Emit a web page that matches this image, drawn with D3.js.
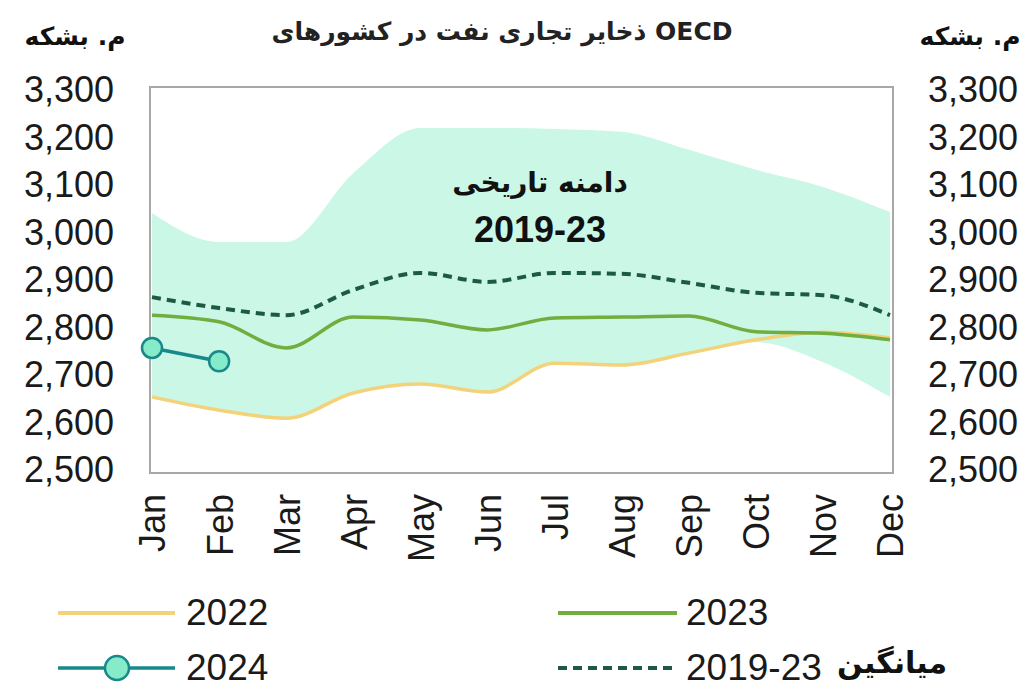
<!DOCTYPE html>
<html>
<head>
<meta charset="utf-8">
<script src="https://cdn.jsdelivr.net/npm/d3@7"></script>
<style>
  body { margin: 0; background: #fff; }
  svg { display: block; }
  text { font-family: "Liberation Sans", Arial, "DejaVu Sans", sans-serif; }
  .fa { font-family: "DejaVu Sans", sans-serif; font-weight: bold; }
</style>
</head>
<body>
<div id="chart"></div>
<script>
const months = ["Jan", "Feb", "Mar", "Apr", "May", "Jun", "Jul", "Aug", "Sep", "Oct", "Nov", "Dec"];
const yTicks = [2500, 2600, 2700, 2800, 2900, 3000, 3100, 3200, 3300];

// 2019-23 range (million barrels)
const rangeHigh = [3041, 2980, 2980, 3125, 3220, 3220, 3218, 3212, 3174, 3132, 3096, 3043];
const rangeLow  = [2650, 2624, 2606, 2660, 2679, 2662, 2723, 2719, 2744, 2769, 2727, 2654];
const avg1923   = [2864, 2841, 2826, 2879, 2915, 2896, 2915, 2913, 2894, 2873, 2868, 2826];
const y2022     = [2654, 2626, 2609, 2662, 2681, 2664, 2725, 2721, 2746, 2774, 2790, 2778];
const y2023     = [2826, 2812, 2757, 2822, 2816, 2795, 2820, 2822, 2824, 2791, 2788, 2774];
const y2024     = [2757, 2729];

const W = 1029, H = 689;
const svg = d3.select("#chart").append("svg")
    .attr("width", W)
    .attr("height", H);

svg.append("rect").attr("width", W).attr("height", H).attr("fill", "#fff");

const x = d3.scalePoint().domain(months).range([152, 890]);
const y = d3.scaleLinear().domain([2500, 3300]).range([470, 90]);

// band
const band = months.map((m, i) => ({ m, lo: rangeLow[i], hi: rangeHigh[i] }));
svg.append("path")
    .datum(band)
    .attr("fill", "#cbf7e7")
    .attr("d", d3.area()
        .x(d => x(d.m))
        .y0(d => y(d.lo))
        .y1(d => y(d.hi))
        .curve(d3.curveMonotoneX));

// plot frame
svg.append("rect")
    .attr("x", 150).attr("y", 87)
    .attr("width", 743).attr("height", 386)
    .attr("fill", "none")
    .attr("stroke", "#a8a8a8")
    .attr("stroke-width", 2);

const line = d3.line()
    .x(d => x(d.m))
    .y(d => y(d.v))
    .curve(d3.curveMonotoneX);

const toPts = arr => arr.map((v, i) => ({ m: months[i], v }));

svg.append("path").datum(toPts(y2022))
    .attr("fill", "none").attr("stroke", "#f3d27a").attr("stroke-width", 3.5)
    .attr("d", line);

svg.append("path").datum(toPts(y2023))
    .attr("fill", "none").attr("stroke", "#6fae3f").attr("stroke-width", 3.5)
    .attr("d", line);

svg.append("path").datum(toPts(avg1923))
    .attr("fill", "none").attr("stroke", "#1d5a43").attr("stroke-width", 4)
    .attr("stroke-dasharray", "9,6")
    .attr("d", line);

const pts24 = toPts(y2024);
svg.append("path").datum(pts24)
    .attr("fill", "none").attr("stroke", "#17898a").attr("stroke-width", 3.5)
    .attr("d", d3.line().x(d => x(d.m)).y(d => y(d.v)));
svg.selectAll(".m24").data(pts24).enter().append("circle")
    .attr("class", "m24")
    .attr("cx", d => x(d.m)).attr("cy", d => y(d.v))
    .attr("r", 10)
    .attr("fill", "#86ebc9").attr("stroke", "#17898a").attr("stroke-width", 2.5);

// axes
const fmt = d3.format(",");
const left = svg.append("g")
    .attr("transform", "translate(150,0)")
    .call(d3.axisLeft(y).tickValues(yTicks).tickFormat(fmt).tickSize(0).tickPadding(36));
const right = svg.append("g")
    .attr("transform", "translate(893,0)")
    .call(d3.axisRight(y).tickValues(yTicks).tickFormat(fmt).tickSize(0).tickPadding(35));
[left, right].forEach(g => {
    g.select(".domain").remove();
    g.selectAll("text")
        .attr("font-family", "Liberation Sans, Arial, sans-serif")
        .attr("font-size", 36)
        .attr("fill", "#1a1a1a");
});

const bottom = svg.append("g")
    .attr("transform", "translate(0,470)")
    .call(d3.axisBottom(x).tickSize(0));
bottom.select(".domain").remove();
bottom.selectAll("text")
    .attr("font-family", "Liberation Sans, Arial, sans-serif")
    .attr("font-size", 36)
    .attr("fill", "#1a1a1a")
    .attr("transform", "rotate(-90)")
    .attr("text-anchor", "end")
    .attr("x", -24)
    .attr("y", 0)
    .attr("dy", "0.36em");

// titles
svg.append("text").attr("class", "fa")
    .attr("x", 502).attr("y", 40)
    .attr("text-anchor", "middle")
    .attr("font-size", 25)
    .attr("fill", "#222")
    .text("ذخایر تجاری نفت در کشورهای OECD");

[75, 970].forEach(cx => {
    svg.append("text").attr("class", "fa")
        .attr("x", cx).attr("y", 45)
        .attr("text-anchor", "middle")
        .attr("font-size", 25)
        .attr("fill", "#111")
        .text("م. بشکه");
});

svg.append("text").attr("class", "fa")
    .attr("x", 540).attr("y", 192)
    .attr("text-anchor", "middle")
    .attr("font-size", 28)
    .attr("fill", "#111")
    .text("دامنه تاریخی");
svg.append("text")
    .attr("x", 540).attr("y", 242)
    .attr("text-anchor", "middle")
    .attr("font-size", 36)
    .attr("font-weight", "bold")
    .attr("fill", "#111")
    .text("2019-23");

// legend
const lg = svg.append("g");
function legendText(tx, ty, label) {
    lg.append("text")
        .attr("x", tx).attr("y", ty)
        .attr("font-size", 37)
        .attr("fill", "#1a1a1a")
        .attr("dy", "0.36em")
        .text(label);
}
lg.append("line").attr("x1", 58).attr("x2", 175).attr("y1", 613).attr("y2", 613)
    .attr("stroke", "#f3d27a").attr("stroke-width", 4);
legendText(186, 612, "2022");

lg.append("line").attr("x1", 558).attr("x2", 677).attr("y1", 613).attr("y2", 613)
    .attr("stroke", "#6fae3f").attr("stroke-width", 4);
legendText(686, 612, "2023");

lg.append("line").attr("x1", 58).attr("x2", 175).attr("y1", 668).attr("y2", 668)
    .attr("stroke", "#17898a").attr("stroke-width", 3.5);
lg.append("circle").attr("cx", 117).attr("cy", 668).attr("r", 12)
    .attr("fill", "#86ebc9").attr("stroke", "#17898a").attr("stroke-width", 2.5);
legendText(186, 667, "2024");

lg.append("line").attr("x1", 558).attr("x2", 677).attr("y1", 668).attr("y2", 668)
    .attr("stroke", "#1d5a43").attr("stroke-width", 4).attr("stroke-dasharray", "9,6");
legendText(686, 667, "2019-23");
lg.append("text").attr("class", "fa")
    .attr("x", 892).attr("y", 662)
    .attr("dy", "0.36em")
    .attr("text-anchor", "middle")
    .attr("font-size", 30)
    .attr("fill", "#111")
    .text("میانگین");
</script>
</body>
</html>
